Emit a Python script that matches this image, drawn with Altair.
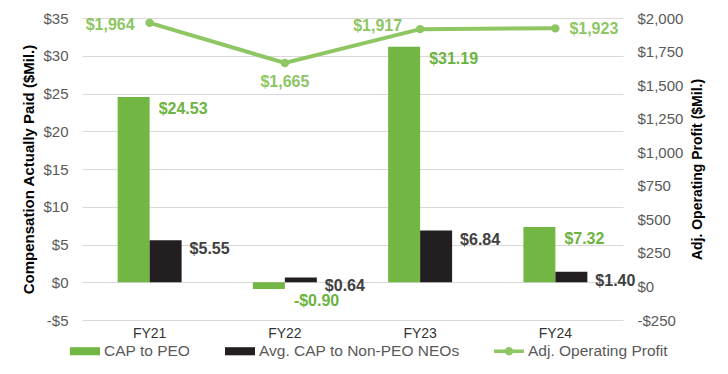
import altair as alt
import pandas as pd

# ---- data ----
years = ["FY21", "FY22", "FY23", "FY24"]
cap_peo = [24.53, -0.90, 31.19, 7.32]
cap_neo = [5.55, 0.64, 6.84, 1.40]
adj_op = [1964, 1665, 1917, 1923]
series_names = ["CAP to PEO", "Avg. CAP to Non-PEO NEOs", "Adj. Operating Profit"]
left_ticks = [-5, 0, 5, 10, 15, 20, 25, 30, 35]
right_ticks = [-250, 0, 250, 500, 750, 1000, 1250, 1500, 1750, 2000]

GREEN_BAR = "#72B743"
BLACK_BAR = "#231F20"
LINE_GREEN = "#8DC663"
GREEN_TXT = "#6CB33F"
DARK_TXT = "#404040"
AXIS_TXT = "#595959"
FONT = "Liberation Sans"


def money(v, dec):
    s = f"${abs(v):,.{dec}f}"
    return "-" + s if v < 0 else s


bar_rows = []
for y, a, b in zip(years, cap_peo, cap_neo):
    bar_rows.append({"year": y, "series": series_names[0], "value": a, "label": money(a, 2)})
    bar_rows.append({"year": y, "series": series_names[1], "value": b, "label": money(b, 2)})
bars_df = pd.DataFrame(bar_rows)

line_df = pd.DataFrame({
    "year": years,
    "series": series_names[2],
    "profit": adj_op,
    "label": [money(v, 0) for v in adj_op],
})

legend_df = pd.DataFrame({"series": series_names})

x_enc = alt.X(
    "year:N",
    scale=alt.Scale(domain=years, paddingInner=0.527, paddingOuter=0.2635),
    axis=alt.Axis(title=None, labelAngle=0, labelFontSize=14, labelColor="#333333",
                  labelPadding=6, ticks=False, domain=False, grid=False),
)
x_off = alt.XOffset("series:N", scale=alt.Scale(domain=series_names[:2]))

left_axis = alt.Axis(
    title="Compensation Actually Paid ($Mil.)", orient="left", values=left_ticks,
    labelExpr="datum.value < 0 ? '-$' + format(-datum.value, ',') : '$' + format(datum.value, ',')",
    labelFontSize=15, labelColor=AXIS_TXT, labelPadding=14,
    titleFontSize=15, titleFontWeight="bold", titleColor="#000000", titlePadding=6,
    grid=True, gridColor="#D9D9D9", domain=False, ticks=False,
)
y_left = alt.Y("value:Q", scale=alt.Scale(domain=[-5, 35], nice=False, zero=False), axis=left_axis)

bars = alt.Chart(bars_df).mark_bar().encode(
    x=x_enc, xOffset=x_off, y=y_left,
    fill=alt.Fill("series:N", scale=alt.Scale(domain=series_names[:2], range=[GREEN_BAR, BLACK_BAR]), legend=None),
)

peo_labels = alt.Chart(bars_df).transform_filter(
    alt.datum.series == series_names[0]
).mark_text(align="left", baseline="middle", dx=25, dy=12, fontSize=16, fontWeight="bold",
            color=GREEN_TXT, font=FONT).encode(x=x_enc, xOffset=x_off, y=y_left, text="label:N")

neo_labels = alt.Chart(bars_df).transform_filter(
    alt.datum.series == series_names[1]
).mark_text(align="left", baseline="middle", dx=24, dy=9, fontSize=16, fontWeight="bold",
            color=DARK_TXT, font=FONT).encode(x=x_enc, xOffset=x_off, y=y_left, text="label:N")

left_layer = alt.layer(bars, peo_labels, neo_labels)

right_axis = alt.Axis(
    title="Adj. Operating Profit ($Mil.)", orient="right", values=right_ticks,
    labelExpr="datum.value < 0 ? '-$' + format(-datum.value, ',') : '$' + format(datum.value, ',')",
    labelFontSize=15, labelColor=AXIS_TXT, labelPadding=14,
    titleFontSize=14, titleFontWeight="bold", titleColor="#000000", titlePadding=8,
    titleAngle=270, titleBaseline="top", grid=False, domain=False, ticks=False,
)
y_right = alt.Y("profit:Q", scale=alt.Scale(domain=[-250, 2000], nice=False, zero=False), axis=right_axis)

line = alt.Chart(line_df).mark_line(color=LINE_GREEN, strokeWidth=4).encode(x=x_enc, y=y_right)
pts = alt.Chart(line_df).mark_point(filled=True, size=70, color=LINE_GREEN, opacity=1).encode(x=x_enc, y=y_right)

label_pos = {
    "FY21": dict(align="right", dx=-15, dy=2),
    "FY22": dict(align="center", dx=0, dy=19),
    "FY23": dict(align="right", dx=-18, dy=-3),
    "FY24": dict(align="left", dx=14, dy=1),
}
line_labels = []
for yr, pos in label_pos.items():
    line_labels.append(
        alt.Chart(line_df).transform_filter(alt.datum.year == yr).mark_text(
            baseline="middle", fontSize=16, fontWeight="bold", color=LINE_GREEN, font=FONT, **pos
        ).encode(x=x_enc, y=y_right, text="label:N")
    )

right_layer = alt.layer(line, pts, *line_labels)

RECT = "M-1,-0.27L1,-0.27L1,0.27L-1,0.27Z"
LINEDOT = "M-1,-0.12L1,-0.12L1,0.12L-1,0.12Z M0.28,0A0.28,0.28 0 1,1 -0.28,0A0.28,0.28 0 1,1 0.28,0Z"

legend = alt.Legend(
    title=None, orient="none", direction="horizontal", legendX=-12, legendY=318,
    symbolSize=900, symbolStrokeWidth=0, labelFontSize=15.5, labelColor=AXIS_TXT,
    labelFont=FONT, labelOffset=4, columnPadding=34, symbolOpacity=1, labelLimit=400,
)
legend_layer = alt.Chart(legend_df).transform_filter("false").mark_point(filled=True, opacity=1).encode(
    color=alt.Color("series:N", scale=alt.Scale(domain=series_names, range=[GREEN_BAR, BLACK_BAR, LINE_GREEN]), legend=legend),
    shape=alt.Shape("series:N", scale=alt.Scale(domain=series_names, range=[RECT, RECT, LINEDOT]), legend=legend),
)

chart = alt.layer(left_layer, right_layer, legend_layer).resolve_scale(
    y="independent"
).properties(
    width=541, height=302,
    padding={"left": 74, "top": 10, "right": 97, "bottom": 46},
    autosize=alt.AutoSizeParams(type="none"),
).configure(font=FONT).configure_view(stroke=None)

chart.save("out.html", embed_options={"renderer": "svg", "actions": False})
